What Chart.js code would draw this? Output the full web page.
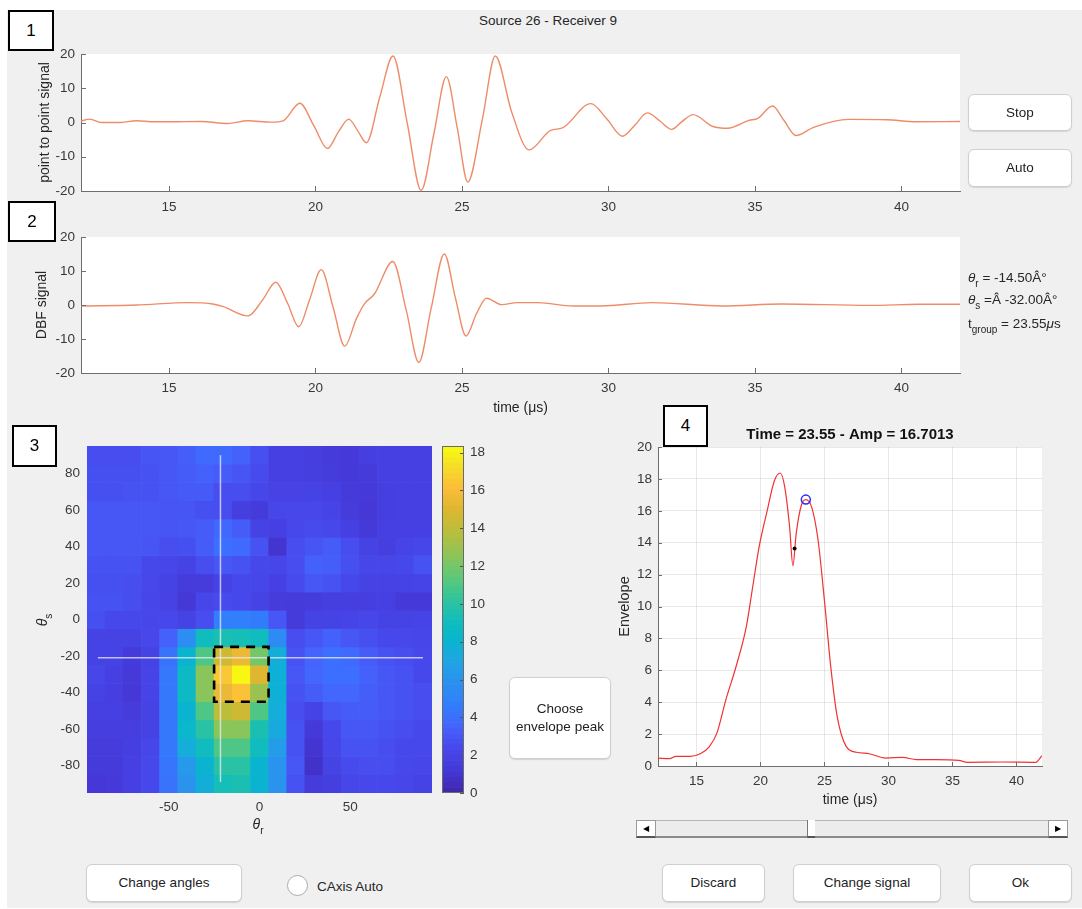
<!DOCTYPE html>
<html>
<head>
<meta charset="utf-8">
<script src="https://cdn.jsdelivr.net/npm/chart.js@4.4.0/dist/chart.umd.min.js"></script>
<style>
  body { margin: 0; background: #fff; font-family: "Liberation Sans", Arial, sans-serif; }
  #fig { position: absolute; left: 7px; top: 10px; width: 1075px; height: 898px; background: #f0f0f0; }
  canvas { position: absolute; }
  .lbl { position: absolute; font-size: 13.5px; color: #262626; white-space: nowrap; }
  .lbl sub { font-size: 10px; vertical-align: -5px; }
  .btn { position: absolute; background: #fff; border: 1px solid #cfcfcf; border-radius: 6px;
         box-shadow: 0 1px 1px rgba(0,0,0,0.12); font-size: 13.5px; color: #222;
         display: flex; align-items: center; justify-content: center; text-align: center; line-height: 18px; }
  .num { position: absolute; background: #fff; border: 2px solid #000; box-sizing: border-box;
         font-size: 17px; display: flex; align-items: center; justify-content: center; }
</style>
</head>
<body>
<div id="fig"></div>

<div class="lbl" style="left:548px;top:20px;transform:translate(-50%,-50%)">Source 26 - Receiver 9</div>

<canvas id="c1" width="975" height="200" style="left:0;top:30px"></canvas>
<canvas id="c2" width="975" height="200" style="left:0;top:222px"></canvas>
<canvas id="c3" width="440" height="410" style="left:0;top:430px"></canvas>
<canvas id="c3b" width="60" height="410" style="left:436px;top:430px"></canvas>
<canvas id="c4" width="460" height="420" style="left:600px;top:400px"></canvas>

<div class="num" style="left:8px;top:10px;width:46px;height:41px">1</div>
<div class="num" style="left:8px;top:201px;width:48px;height:41px">2</div>
<div class="num" style="left:12px;top:425px;width:45px;height:42px">3</div>
<div class="num" style="left:663px;top:405px;width:45px;height:42px">4</div>

<div class="btn" style="left:968px;top:94px;width:102px;height:35px">Stop</div>
<div class="btn" style="left:968px;top:149px;width:102px;height:36px">Auto</div>

<div class="lbl" style="left:968px;top:279px;transform:translateY(-50%)"><i>θ</i><sub>r</sub> = -14.50Â°</div>
<div class="lbl" style="left:968px;top:301px;transform:translateY(-50%)"><i>θ</i><sub>s</sub> =Â -32.00Â°</div>
<div class="lbl" style="left:968px;top:325px;transform:translateY(-50%)">t<sub>group</sub> = 23.55<i>μ</i>s</div>

<div class="lbl" style="left:44px;top:620px;font-size:14px;transform:translate(-50%,-50%) rotate(-90deg)"><i>θ</i><sub>s</sub></div>
<div class="lbl" style="left:258px;top:826px;font-size:14px;transform:translate(-50%,-50%)"><i>θ</i><sub>r</sub></div>

<div class="btn" style="left:509px;top:677px;width:100px;height:80px">Choose<br>envelope peak</div>

<!-- slider -->
<div style="position:absolute;left:636px;top:820px;width:431px;height:18px;background:#ececec;border-top:1px solid #b5b5b5;border-bottom:2px solid #8a8a8a;box-sizing:border-box"></div>
<div style="position:absolute;left:636px;top:820px;width:20px;height:18px;background:#fff;border:1px solid #999;border-bottom:2px solid #555;box-sizing:border-box;font-size:8px;line-height:15px;text-align:center">◀</div>
<div style="position:absolute;left:1048px;top:820px;width:20px;height:18px;background:#fff;border:1px solid #999;border-bottom:2px solid #555;box-sizing:border-box;font-size:8px;line-height:15px;text-align:center">▶</div>
<div style="position:absolute;left:807px;top:820px;width:8px;height:18px;background:#fff;border-left:1px solid #777;border-bottom:2px solid #555;box-sizing:border-box"></div>

<div class="btn" style="left:86px;top:864px;width:154px;height:36px">Change angles</div>
<div style="position:absolute;left:287px;top:875px;width:21px;height:21px;border-radius:50%;background:#fff;border:1px solid #aaa;box-sizing:border-box"></div>
<div class="lbl" style="left:317px;top:886px;transform:translateY(-50%)">CAxis Auto</div>
<div class="btn" style="left:662px;top:864px;width:101px;height:36px">Discard</div>
<div class="btn" style="left:793px;top:864px;width:146px;height:36px">Change signal</div>
<div class="btn" style="left:969px;top:864px;width:101px;height:36px">Ok</div>

<script>
// ---- data ----
const timeTicks = [15, 20, 25, 30, 35, 40];
const sigTicks = [-20, -10, 0, 10, 20];

// point to point signal (panel 1)
const tP2P = [12, 12.3, 12.7, 13.3, 13.9, 14.5, 15.1, 16.1, 17.0, 17.7, 18.5, 18.9, 19.47, 19.95, 20.41, 20.8, 21.14, 21.45, 21.74, 22.2, 22.65, 23.13, 23.61, 24.05, 24.47, 24.85, 25.2, 25.7, 26.14, 26.7, 27.29, 28.03, 28.43, 29.4, 29.95, 30.48, 30.9, 31.33, 31.75, 32.16, 32.5, 32.89, 33.55, 34.07, 34.8, 35.1, 35.6, 36.0, 36.4, 37.0, 38.2, 39.5, 40.5, 42];
const vP2P = [0.4, 1.0, 0.0, 0.0, 0.5, 0.2, 0.2, 0.3, -0.3, 0.5, 0.1, 0.5, 5.6, -1.0, -7.6, -2.5, 1.0, -2.5, -5.9, 7.5, 19.4, 0.0, -19.8, -3.0, 13.4, -2.0, -17.4, 1.0, 19.4, 3.0, -8.0, -2.3, -1.6, 5.5, 1.0, -4.0, -0.8, 2.8, 0.5, -2.0, 0.2, 2.3, -1.1, -1.7, 0.6, 1.2, 4.8, 0.5, -3.8, -1.4, 0.9, 0.8, 0.2, 0.3];

// DBF signal (panel 2)
const tDBF = [12, 13.9, 15.67, 16.5, 16.86, 17.7, 18.2, 18.65, 19.05, 19.43, 19.8, 20.2, 20.6, 21.0, 21.4, 21.68, 22.02, 22.64, 23.1, 23.53, 23.95, 24.4, 24.78, 25.14, 25.5, 25.84, 26.35, 26.9, 27.6, 28.8, 29.74, 31.5, 33.9, 35.9, 38.9, 40.6, 42];
const vDBF = [-0.3, 0.0, 0.7, 0.3, -0.5, -3.2, 1.5, 6.7, 0.5, -6.4, 1.5, 10.4, -0.5, -12.1, -4.0, 0.4, 3.3, 12.8, -1.5, -16.9, -1.0, 15.0, 2.0, -9.1, -2.5, 2.0, 0.1, 0.7, 0.7, -0.3, -0.3, 0.7, -0.3, 0.3, -0.1, 0.2, 0.2];

// envelope (panel 4)
const tEnv = [12, 12.9, 13.4, 14.5, 15.3, 16.0, 16.6, 17.3, 18.1, 18.9, 19.4, 19.9, 20.5, 21.1, 21.55, 21.9, 22.28, 22.54, 22.8, 23.2, 23.55, 24.0, 24.5, 25.0, 25.5, 26.0, 26.7, 27.5, 28.5, 29.8, 31.1, 32.2, 33.7, 35.5, 36.2, 38.9, 41.5, 42];
const vEnv = [0.5, 0.46, 0.6, 0.6, 0.77, 1.2, 2.06, 4.15, 6.24, 8.74, 11.24, 13.74, 15.9, 17.9, 18.37, 17.5, 15.0, 12.55, 14.6, 16.35, 16.70, 16.25, 14.2, 10.4, 6.2, 3.1, 1.23, 0.86, 0.77, 0.5, 0.54, 0.4, 0.4, 0.35, 0.23, 0.25, 0.23, 0.65];
const envTicks = [0, 2, 4, 6, 8, 10, 12, 14, 16, 18, 20];
const pickDot = { x: 22.67, y: 13.64 };
const pickPeak = { x: 23.55, y: 16.7013 };

// DBF map (panel 3): rows are theta_s from 90 down to -90, columns theta_r -90..90
const thetaR = [-90, -80, -70, -60, -50, -40, -30, -20, -10, 0, 10, 20, 30, 40, 50, 60, 70, 80, 90];
const thetaS = [90, 80, 70, 60, 50, 40, 30, 20, 10, 0, -10, -20, -30, -40, -50, -60, -70, -80, -90];
const dbfMap = [
  [2.6, 2.6, 2.6, 2.9, 3.0, 3.3, 3.8, 3.8, 3.4, 2.7, 1.8, 1.8, 1.6, 1.4, 1.3, 1.6, 1.8, 1.8, 1.8],
  [2.7, 2.7, 2.7, 2.8, 3.0, 3.2, 3.4, 3.2, 2.9, 2.5, 1.8, 1.8, 1.7, 1.5, 1.3, 1.4, 1.8, 1.8, 1.8],
  [2.7, 2.7, 2.8, 2.8, 3.0, 3.1, 3.1, 2.6, 2.6, 2.2, 1.9, 1.9, 2.0, 1.8, 1.4, 1.3, 1.7, 1.8, 1.8],
  [3.0, 3.0, 3.0, 3.0, 2.9, 2.9, 2.7, 2.6, 1.7, 1.4, 2.2, 2.3, 2.3, 2.1, 1.5, 1.2, 1.7, 1.8, 1.8],
  [3.0, 3.0, 3.0, 3.0, 2.9, 3.0, 3.2, 3.7, 3.2, 2.0, 1.8, 2.4, 2.5, 2.3, 1.8, 1.3, 1.8, 1.8, 1.8],
  [3.0, 3.0, 3.0, 2.9, 2.6, 2.7, 3.2, 4.0, 3.8, 2.8, 1.0, 2.6, 2.9, 3.2, 2.6, 2.0, 1.7, 2.1, 2.2],
  [2.8, 2.8, 2.8, 2.4, 2.2, 2.0, 2.6, 3.0, 2.8, 2.4, 2.2, 2.6, 3.4, 3.3, 2.7, 2.2, 2.2, 2.4, 2.8],
  [2.7, 2.7, 2.6, 2.3, 2.0, 1.5, 1.5, 2.0, 2.4, 2.2, 1.8, 2.5, 3.0, 2.8, 2.4, 2.0, 1.9, 2.0, 2.1],
  [2.8, 2.8, 2.6, 2.2, 1.9, 1.2, 2.2, 2.5, 2.4, 2.0, 1.5, 1.4, 1.5, 1.6, 1.6, 1.6, 1.8, 1.3, 1.3],
  [2.7, 2.4, 2.4, 2.2, 2.4, 2.0, 2.6, 4.8, 4.8, 4.6, 3.0, 1.4, 2.0, 2.0, 2.1, 2.2, 2.0, 2.0, 2.1],
  [2.0, 2.0, 2.0, 2.3, 3.4, 5.6, 9.0, 9.5, 9.3, 9.0, 5.5, 2.6, 3.0, 3.4, 3.0, 2.7, 2.4, 2.3, 2.2],
  [2.0, 2.0, 1.4, 2.0, 4.2, 8.0, 11.0, 14.5, 15.5, 12.0, 7.6, 2.8, 3.5, 4.0, 3.8, 3.2, 2.8, 2.6, 2.4],
  [2.2, 1.8, 1.3, 2.1, 4.4, 8.6, 12.5, 16.5, 18.2, 15.0, 7.8, 3.0, 3.6, 4.0, 4.0, 3.4, 3.0, 2.8, 2.4],
  [2.0, 1.6, 1.2, 2.1, 4.4, 8.6, 12.5, 15.5, 16.3, 13.0, 7.8, 2.8, 3.2, 3.6, 3.6, 3.3, 3.0, 2.8, 2.6],
  [1.8, 1.8, 1.5, 2.0, 4.4, 8.0, 11.0, 14.0, 14.5, 11.0, 7.5, 2.6, 2.0, 3.0, 3.2, 3.2, 3.0, 2.8, 2.6],
  [1.6, 1.6, 1.6, 2.0, 4.4, 8.3, 10.0, 12.5, 12.5, 9.5, 7.3, 2.8, 1.3, 2.4, 3.0, 3.0, 2.8, 2.6, 2.4],
  [1.5, 1.5, 1.7, 2.2, 4.4, 7.5, 9.0, 11.0, 11.0, 9.0, 6.5, 2.8, 1.0, 2.2, 2.8, 2.8, 2.6, 2.4, 2.4],
  [1.4, 1.4, 1.8, 2.4, 4.3, 6.3, 8.0, 10.0, 10.0, 8.0, 6.0, 3.0, 0.8, 2.0, 2.5, 2.6, 2.6, 2.4, 2.2],
  [1.2, 1.3, 1.8, 2.4, 4.2, 6.0, 7.6, 9.3, 9.5, 8.0, 6.0, 2.8, 1.5, 1.7, 2.2, 2.4, 2.4, 2.2, 2.0]
];
const angleTicksR = [-50, 0, 50];
const angleTicksS = [-80, -60, -40, -20, 0, 20, 40, 60, 80];
const cbTicks = [0, 2, 4, 6, 8, 10, 12, 14, 16, 18];
const cMax = 18.35;
const crossR = -21.5, crossS = -21;
const boxR = [-25, 5], boxS = [-45, -15];

// ---- styles ----
const sigColor = 'rgb(238,140,105)';
const axisColor = '#6e6e6e';
const txtColor = '#383838';
const tickFont = { size: 13.5 };
const titleFont = { size: 14 };
Chart.defaults.font.family = '"Liberation Sans", Arial, sans-serif';
Chart.defaults.color = txtColor;

// parula colormap stops
const parulaStops = [
  [0.00, 62, 38, 168], [0.06, 69, 55, 213], [0.13, 71, 72, 236], [0.19, 69, 99, 253],
  [0.25, 50, 124, 252], [0.32, 43, 145, 239], [0.38, 32, 165, 227], [0.44, 8, 181, 208],
  [0.50, 17, 189, 186], [0.57, 55, 197, 151], [0.63, 100, 200, 116], [0.69, 143, 196, 86],
  [0.75, 183, 190, 61], [0.82, 223, 182, 47], [0.88, 252, 190, 57], [0.94, 245, 220, 40],
  [1.00, 249, 251, 14]
];
function parula(f) {
  f = Math.max(0, Math.min(1, f));
  for (let i = 1; i < parulaStops.length; i++) {
    const a = parulaStops[i - 1], b = parulaStops[i];
    if (f <= b[0]) {
      const k = (f - a[0]) / (b[0] - a[0]);
      const c = [1, 2, 3].map(j => Math.round(a[j] + (b[j] - a[j]) * k));
      return `rgb(${c[0]},${c[1]},${c[2]})`;
    }
  }
  return 'rgb(249,251,14)';
}

// ---- plugins ----
const plotBg = {
  id: 'plotBg',
  beforeDraw(chart, args, opts) {
    if (!opts.color) return;
    const { ctx, chartArea: r } = chart;
    ctx.save();
    ctx.fillStyle = opts.color;
    ctx.fillRect(r.left, r.top, r.width, r.height);
    ctx.restore();
  }
};
// matlab style ticks pointing into the axes
const inTicks = {
  id: 'inTicks',
  afterDatasetsDraw(chart, args, opts) {
    if (!opts.on) return;
    const { ctx, chartArea: a } = chart;
    const len = opts.len || 5;
    ctx.save();
    ctx.strokeStyle = opts.color || axisColor;
    ctx.lineWidth = 1;
    Object.values(chart.scales).forEach(s => {
      if (!s.options.display) return;
      s.ticks.forEach(t => {
        const p = Math.round(s.getPixelForValue(t.value)) + 0.5;
        ctx.beginPath();
        if (s.isHorizontal()) { ctx.moveTo(p, a.bottom); ctx.lineTo(p, a.bottom - len); }
        else if (s.position === 'right') { ctx.moveTo(a.right, p); ctx.lineTo(a.right - len, p); }
        else { ctx.moveTo(a.left, p); ctx.lineTo(a.left + len, p); }
        ctx.stroke();
      });
    });
    ctx.restore();
  }
};
Chart.register(plotBg, inTicks);

const fixTicks = arr => s => { s.ticks = arr.map(v => ({ value: v })); };

function signalChart(id, ts, vs, yTitle, yTitlePad, padTop, xh, xPad, xTitle) {
  return new Chart(document.getElementById(id), {
    type: 'line',
    data: {
      datasets: [{
        data: ts.map((t, i) => ({ x: t, y: vs[i] })),
        borderColor: sigColor, borderWidth: 1.4, pointRadius: 0,
        cubicInterpolationMode: 'monotone'
      }]
    },
    options: {
      responsive: false, animation: false, events: [],
      layout: { padding: { top: padTop, right: 15 } },
      plugins: { legend: { display: false }, tooltip: { enabled: false },
                 plotBg: { color: '#ffffff' }, inTicks: { on: true } },
      scales: {
        x: {
          type: 'linear', min: 12, max: 42,
          afterBuildTicks: fixTicks(timeTicks),
          afterFit: s => { s.height = xh; },
          grid: { display: false, drawTicks: false },
          border: { color: axisColor },
          ticks: { font: tickFont, padding: xPad, color: txtColor },
          title: { display: !!xTitle, text: xTitle || '', font: titleFont, color: '#262626',
                   padding: { top: 0, bottom: 5.6 } }
        },
        y: {
          type: 'linear', min: -20, max: 20,
          afterBuildTicks: fixTicks(sigTicks),
          afterFit: s => { s.width = 81; },
          grid: { display: false, drawTicks: false },
          border: { color: axisColor },
          ticks: { font: tickFont, padding: 6, color: txtColor },
          title: { display: true, text: yTitle, font: titleFont, color: '#262626',
                   padding: { top: yTitlePad, bottom: 0 } }
        }
      }
    }
  });
}

signalChart('c1', tP2P, vP2P, 'point to point signal', 36.6, 24, 39, 8, null);
signalChart('c2', tDBF, vDBF, 'DBF signal', 33.6, 15, 49, 7, 'time (μs)');

// ---- panel 3: DBF map ----
const heatSets = thetaS.map((s, i) => ({
  type: 'bar',
  data: thetaR.map(r => ({ x: r, y: [s - 5, s + 5] })),
  backgroundColor: dbfMap[i].map(v => parula(v / cMax)),
  grouped: false, categoryPercentage: 1, barPercentage: 1, borderWidth: 0, order: 3
}));
const lineSet = (pts, color, width, dash, order) => ({
  type: 'line', data: pts, borderColor: color, borderWidth: width, borderDash: dash,
  pointRadius: 0, tension: 0, fill: false, order: order
});
new Chart(document.getElementById('c3'), {
  type: 'bar',
  data: {
    datasets: heatSets.concat([
      lineSet([{ x: crossR, y: 90 }, { x: crossR, y: -89 }], 'rgba(235,235,245,0.75)', 1.5, [], 2),
      lineSet([{ x: -89, y: crossS }, { x: 90, y: crossS }], 'rgba(235,235,245,0.75)', 1.5, [], 2),
      lineSet([{ x: boxR[0], y: boxS[1] }, { x: boxR[1], y: boxS[1] }, { x: boxR[1], y: boxS[0] },
               { x: boxR[0], y: boxS[0] }, { x: boxR[0], y: boxS[1] }], '#000', 2.6, [9, 7], 1)
    ])
  },
  options: {
    responsive: false, animation: false, events: [],
    layout: { padding: { top: 16, right: 8 } },
    plugins: { legend: { display: false }, tooltip: { enabled: false } },
    scales: {
      x: {
        type: 'linear', min: -95, max: 95, offset: false,
        afterBuildTicks: fixTicks(angleTicksR),
        afterFit: s => { s.height = 47; },
        grid: { display: false, drawTicks: false },
        border: { display: false },
        ticks: { font: tickFont, padding: 6.5, color: txtColor }
      },
      y: {
        type: 'linear', min: -95, max: 95,
        afterBuildTicks: fixTicks(angleTicksS),
        afterFit: s => { s.width = 87; },
        grid: { display: false, drawTicks: false },
        border: { display: false },
        ticks: { font: tickFont, padding: 7, color: txtColor }
      }
    }
  }
});

// colorbar
const cbSegs = [];
for (let i = 0; i < 64; i++) cbSegs.push([i * cMax / 64, (i + 1) * cMax / 64]);
new Chart(document.getElementById('c3b'), {
  type: 'bar',
  data: {
    datasets: [{
      data: cbSegs.map(g => ({ x: 0, y: g })),
      backgroundColor: cbSegs.map(g => parula((g[0] + g[1]) / 2 / cMax)),
      barThickness: 23, borderWidth: 0
    }]
  },
  options: {
    responsive: false, animation: false, events: [],
    layout: { padding: { top: 16, left: 6, bottom: 47 } },
    plugins: { legend: { display: false }, tooltip: { enabled: false },
               inTicks: { on: true, len: 4, color: '#555' } },
    scales: {
      x: { type: 'linear', min: -0.5, max: 0.5, offset: false, display: false },
      y: {
        type: 'linear', position: 'right', min: 0, max: cMax,
        afterBuildTicks: fixTicks(cbTicks),
        afterFit: s => { s.width = 32; },
        grid: { display: false, drawTicks: false },
        border: { display: false },
        ticks: { font: tickFont, padding: 6, color: txtColor }
      }
    }
  },
  plugins: [{
    id: 'cbFrame',
    afterDraw(chart) {
      const { ctx, chartArea: a } = chart;
      ctx.save();
      ctx.strokeStyle = '#6a6a6a';
      ctx.lineWidth = 1;
      ctx.strokeRect(a.left + 0.5, a.top + 0.5, a.width - 1, a.height - 1);
      ctx.restore();
    }
  }]
});

// ---- panel 4: envelope ----
new Chart(document.getElementById('c4'), {
  type: 'line',
  data: {
    datasets: [
      { data: tEnv.map((t, i) => ({ x: t, y: vEnv[i] })), borderColor: 'rgb(240,50,50)',
        borderWidth: 1.2, pointRadius: 0, cubicInterpolationMode: 'monotone', order: 3 },
      { data: [pickDot], showLine: false, pointRadius: 2, pointBackgroundColor: '#000',
        pointBorderWidth: 0, order: 2 },
      { data: [pickPeak], showLine: false, pointRadius: 4.5, pointBackgroundColor: 'rgba(0,0,0,0)',
        pointBorderColor: 'rgb(40,40,255)', pointBorderWidth: 1.5, order: 1 }
    ]
  },
  options: {
    responsive: false, animation: false, events: [],
    layout: { padding: { right: 18 } },
    plugins: {
      legend: { display: false }, tooltip: { enabled: false },
      plotBg: { color: '#ffffff' }, inTicks: { on: true, len: 4 },
      title: { display: true, fullSize: false, text: 'Time = 23.55 - Amp = 16.7013',
               font: { size: 15, weight: 'bold' }, color: '#111',
               padding: { top: 26, bottom: 3 } }
    },
    scales: {
      x: {
        type: 'linear', min: 12, max: 42,
        afterBuildTicks: fixTicks(timeTicks),
        afterFit: s => { s.height = 54; },
        grid: { color: 'rgba(0,0,0,0.09)', drawTicks: false },
        border: { color: axisColor },
        ticks: { font: tickFont, padding: 7, color: txtColor },
        title: { display: true, text: 'time (μs)', font: titleFont, color: '#262626',
                 padding: { top: 0, bottom: 11.6 } }
      },
      y: {
        type: 'linear', min: 0, max: 20,
        afterBuildTicks: fixTicks(envTicks),
        afterFit: s => { s.width = 58; },
        grid: { color: 'rgba(0,0,0,0.09)', drawTicks: false },
        border: { color: axisColor },
        ticks: { font: tickFont, padding: 6, color: txtColor },
        title: { display: true, text: 'Envelope', font: { size: 14.5 }, color: '#262626',
                 padding: { top: 16.3, bottom: 0 } }
      }
    }
  }
});
</script>
</body>
</html>
